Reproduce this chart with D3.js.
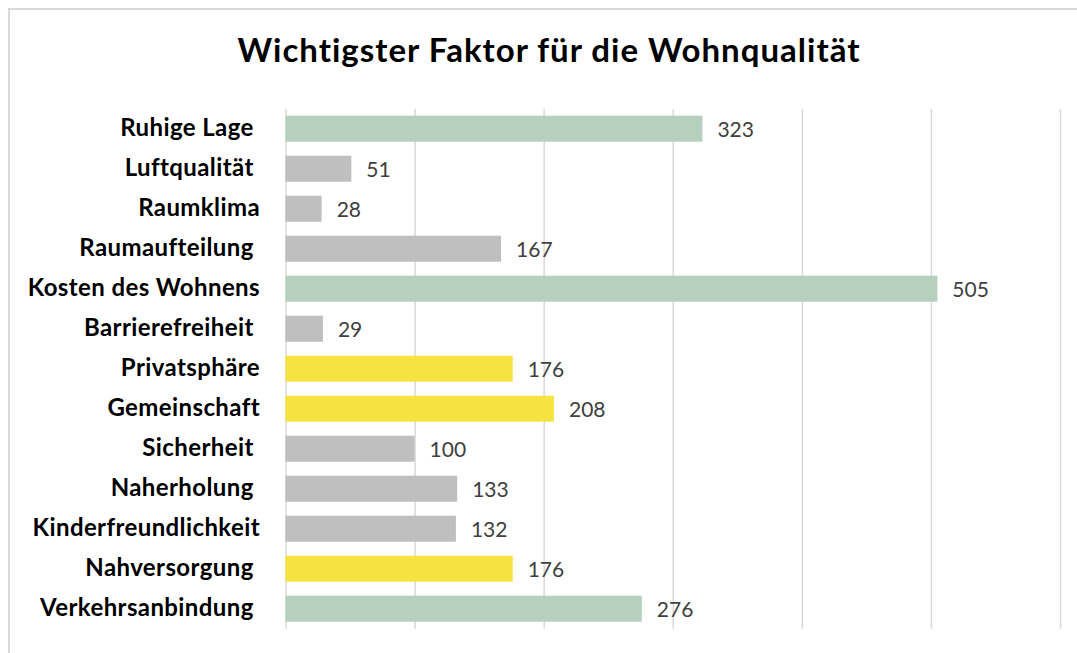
<!DOCTYPE html>
<html>
<head>
<meta charset="utf-8">
<script src="https://cdn.jsdelivr.net/npm/d3@7"></script>
<style>
  body { margin: 0; background: #fff; }
  .cat-label { white-space: pre; }
</style>
</head>
<body>
<div id="chart"></div>
<script>
// data (trailing spaces are in the original labels)
const categories = [
  "Ruhige Lage ", "Luftqualität ", "Raumklima", "Raumaufteilung ",
  "Kosten des Wohnens", "Barrierefreiheit ", "Privatsphäre", "Gemeinschaft",
  "Sicherheit ", "Naherholung ", "Kinderfreundlichkeit", "Nahversorgung ",
  "Verkehrsanbindung "
];
const values = [323, 51, 28, 167, 505, 29, 176, 208, 100, 133, 132, 176, 276];
const groups = ["top", "other", "other", "other", "top", "other", "social", "social",
                "other", "other", "other", "social", "top"];
const xTicks = [0, 100, 200, 300, 400, 500, 600];
const title = "Wichtigster Faktor für die Wohnqualität";

const groupColor = { top: "#b6d0be", other: "#bfbfbf", social: "#f5e33f" };

const width = 1077, height = 653;
const margin = {top: 108.7, right: 17, bottom: 24.3, left: 285.5};
const font = "Lato, 'Open Sans', sans-serif";

const data = categories.map((c, i) => ({cat: c, value: values[i], group: groups[i]}));

const svg = d3.select("#chart").append("svg")
  .attr("width", width)
  .attr("height", height);

// chart frame
svg.append("rect")
  .attr("x", 9).attr("y", 9)
  .attr("width", width + 20).attr("height", height + 20)
  .attr("fill", "none")
  .attr("stroke", "#d9d9d9")
  .attr("stroke-width", 2);

svg.append("text")
  .attr("x", 549)
  .attr("y", 62)
  .attr("text-anchor", "middle")
  .style("font-family", font)
  .style("font-weight", "bold")
  .style("font-size", "33px")
  .style("letter-spacing", "1px")
  .attr("fill", "#000")
  .text(title);

const x = d3.scaleLinear()
  .domain([0, 600])
  .range([margin.left, width - margin.right]);

const y = d3.scaleBand()
  .domain(categories)
  .range([margin.top, height - margin.bottom])
  .paddingInner(0.35)
  .paddingOuter(0.175);

// vertical gridlines
const grid = svg.append("g")
  .attr("transform", "translate(0," + margin.top + ")")
  .call(d3.axisBottom(x).tickValues(xTicks)
    .tickSize(height - margin.bottom - margin.top).tickFormat(""));
grid.select(".domain").remove();
grid.selectAll(".tick line")
  .attr("stroke", "#d9d9d9")
  .attr("stroke-width", 1.5);

// bars
svg.selectAll(".bar")
  .data(data)
  .enter().append("rect")
    .attr("class", "bar")
    .attr("x", x(0))
    .attr("y", d => y(d.cat))
    .attr("width", d => x(d.value) - x(0))
    .attr("height", y.bandwidth())
    .attr("fill", d => groupColor[d.group]);

// value labels
svg.selectAll(".val")
  .data(data)
  .enter().append("text")
    .attr("class", "val")
    .attr("x", d => x(d.value) + 15)
    .attr("y", d => y(d.cat) + y.bandwidth() / 2)
    .attr("dy", "0.38em")
    .style("font-family", font)
    .style("font-size", "21px")
    .attr("fill", "#404040")
    .text(d => d.value);

// category labels
svg.selectAll(".cat-label")
  .data(data)
  .enter().append("text")
    .attr("class", "cat-label")
    .attr("x", 260)
    .attr("y", d => y(d.cat) + y.bandwidth() / 2)
    .attr("dy", "0.3em")
    .attr("text-anchor", "end")
    .style("font-family", font)
    .style("font-weight", "bold")
    .style("font-size", "24px")
    .style("letter-spacing", "0.4px")
    .attr("fill", "#000")
    .text(d => d.cat);
</script>
</body>
</html>
